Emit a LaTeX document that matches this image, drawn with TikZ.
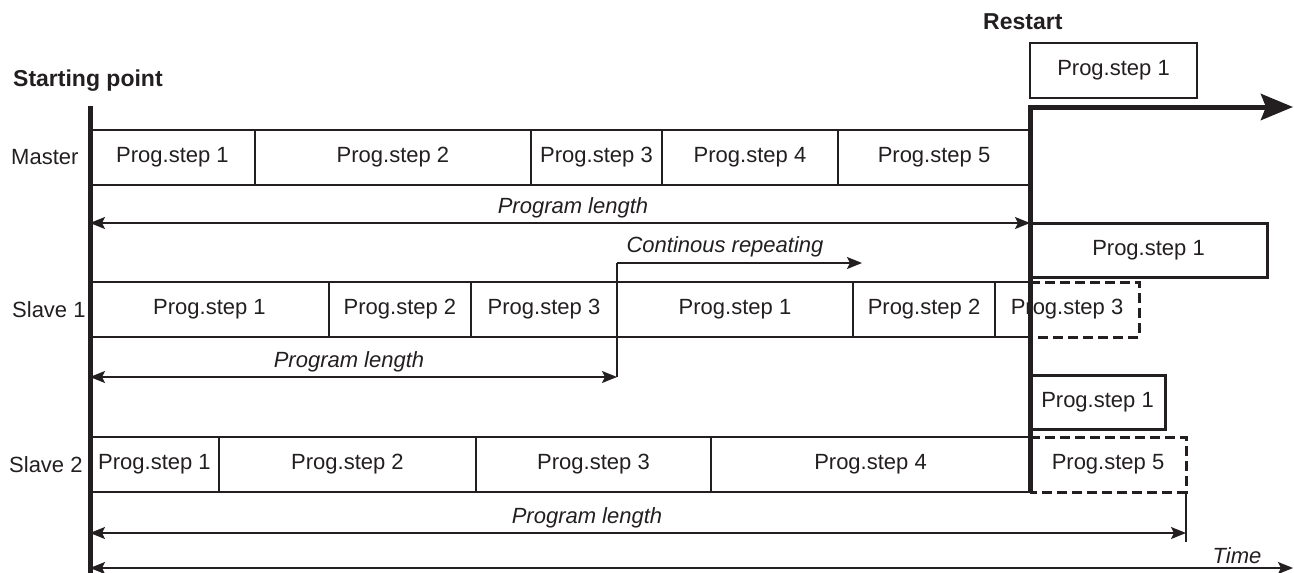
\documentclass[tikz,border=0pt]{standalone}
\usepackage{fontspec}
\setmainfont{Liberation Sans}
\usetikzlibrary{arrows.meta}
\definecolor{ink}{HTML}{231F20}
\begin{document}
\begin{tikzpicture}[x=1pt,y=-1pt,
  every node/.style={text=ink},
  plain/.style={font=\fontsize{22}{26}\selectfont, inner sep=0pt},
  lbl/.style={font=\fontsize{22}{26}\selectfont\itshape, inner sep=0pt},
  hdr/.style={font=\fontsize{23}{27}\selectfont\bfseries, inner sep=0pt},
  cell/.style={draw=ink, line width=2.4pt, minimum height=55pt, inner sep=0pt, outer sep=0pt, anchor=west, font=\fontsize{22}{26}\selectfont},
  tcell/.style={minimum height=55pt, inner sep=0pt, outer sep=0pt, anchor=west, font=\fontsize{22}{26}\selectfont},
  dashline/.style={draw=ink, dash pattern=on 10pt off 5pt, line width=3pt},
  rbox/.style={draw=ink, line width=3pt, minimum height=54pt, inner sep=0pt, outer sep=0pt, anchor=north west, font=\fontsize{22}{26}\selectfont},
  thinline/.style={draw=ink, line width=1.6pt},
  tip/.tip={Stealth[length=15pt,width=12pt,inset=3pt]},
  arr/.style={thinline, -tip},
  darr/.style={thinline, tip-tip},
  rowline/.style={draw=ink, line width=2.4pt},
]
\useasboundingbox (0,0) rectangle (1294,573);

% key coordinates
\coordinate (top) at (90,106);
\coordinate (bot) at (90,573);
\coordinate (rtop) at (1030,107);
\coordinate (rbot) at (1030,492);
\coordinate (rend) at (1293,107);

% headers
\node[hdr, anchor=west] (start) at (13,81) {Starting point};
\node[hdr, anchor=west] (restart) at (983,22) {Restart};

% row labels
\node[plain, anchor=west] (lm) at (11,157.5) {Master};
\node[plain, anchor=west] (ls1) at (12,309.5) {Slave 1};
\node[plain, anchor=west] (ls2) at (9,464.5) {Slave 2};

% partly dashed cells
\node[tcell, minimum width=144pt] (s1f) at (995,309.5) {Prog.step 3};
\node[tcell, minimum width=156pt] (s2e) at (1030,464.5) {Prog.step 5};
\draw[dashline] (s1f.north west -| rtop) -- (s1f.north east) -- (s1f.south east) -- (s1f.south west -| rtop);
\draw[dashline] (s2e.north west) -- (s2e.north east) -- (s2e.south east) -- (s2e.south west);
\draw[rowline] (s1f.north west) -- (s1f.north west -| rtop);
\draw[rowline] (s1f.south west) -- (s1f.south west -| rtop);

% Master row
\node[cell, minimum width=165pt] (m1) at (90,157.5) {Prog.step 1};
\node[cell, minimum width=276pt] (m2) at (255,157.5) {Prog.step 2};
\node[cell, minimum width=131pt] (m3) at (531,157.5) {Prog.step 3};
\node[cell, minimum width=176pt] (m4) at (662,157.5) {Prog.step 4};
\node[cell, minimum width=192pt] (m5) at (838,157.5) {Prog.step 5};

% Slave 1 row
\node[cell, minimum width=239pt] (s1a) at (90,309.5) {Prog.step 1};
\node[cell, minimum width=142pt] (s1b) at (329,309.5) {Prog.step 2};
\node[cell, minimum width=146pt] (s1c) at (471,309.5) {Prog.step 3};
\node[cell, minimum width=236pt] (s1d) at (617,309.5) {Prog.step 1};
\node[cell, minimum width=142pt] (s1e) at (853,309.5) {Prog.step 2};

% Slave 2 row
\node[cell, minimum width=129pt] (s2a) at (90,464.5) {Prog.step 1};
\node[cell, minimum width=257pt] (s2b) at (219,464.5) {Prog.step 2};
\node[cell, minimum width=235pt] (s2c) at (476,464.5) {Prog.step 3};
\node[cell, minimum width=319pt] (s2d) at (711,464.5) {Prog.step 4};

% restart boxes
\node[rbox, line width=1.6pt, minimum width=167pt, minimum height=55pt] (r0) at (1030,43) {Prog.step 1};
\node[rbox, minimum width=237pt] (r1) at (1030,223) {Prog.step 1};
\node[rbox, minimum width=135pt] (r2) at (1030,375) {Prog.step 1};

% Master program length
\coordinate (mL) at (90,223);
\coordinate (mR) at (1030,223);
\draw[darr] (mL) -- (mR);
\node[lbl] (mpl) at (573,208) {Program length};

% Slave 1 program length and repetition
\coordinate (sL) at (90,377);
\coordinate (sR) at (617,377);
\coordinate (cUp) at (617,263);
\coordinate (cEnd) at (862,263);
\draw[darr] (sL) -- (sR);
\draw[draw=ink, line width=2.4pt] (sR) -- (cUp);
\draw[arr] (cUp) -- (cEnd);
\node[lbl] (spl) at (349,362) {Program length};
\node[lbl] (crep) at (725,247) {Continous repeating};

% Slave 2 program length
\coordinate (tL) at (90,533);
\coordinate (tR) at (1186,533);
\coordinate (tTop) at (1186,492);
\coordinate (tBot) at (1186,542);
\draw[darr] (tL) -- (tR);
\draw[thinline] (tTop) -- (tBot);
\node[lbl] (tpl) at (587,518) {Program length};

% Time axis
\coordinate (xL) at (90,568);
\coordinate (xR) at (1293,568);
\draw[darr] (xL) -- (xR);
\node[lbl] (time) at (1237,556) {Time};

% main vertical line
\draw[draw=ink, line width=5pt] (top) -- (bot);

% restart line
\draw[draw=ink, line width=5pt, -{Stealth[length=32pt,width=26pt,inset=5pt]}] (rbot) -- (rtop) -- (rend);
\end{tikzpicture}
\end{document}
